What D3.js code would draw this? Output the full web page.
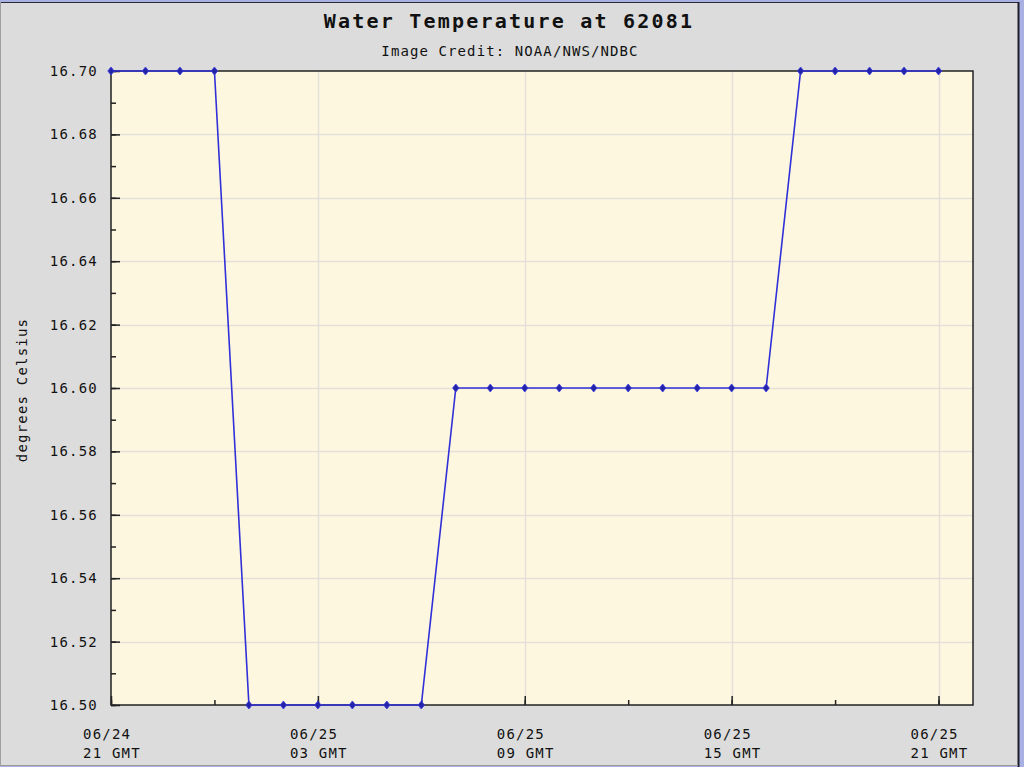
<!DOCTYPE html>
<html>
<head>
<meta charset="utf-8">
<script src="https://cdn.jsdelivr.net/npm/d3@7"></script>
<style>
html,body{margin:0;padding:0;background:#a9b1e3;}
svg{display:block;}
text{font-family:"DejaVu Sans Mono","Liberation Mono",monospace;fill:#111;}
</style>
</head>
<body>
<svg id="chart" width="1024" height="767"></svg>
<script>
// Data: hourly water temperature, 06/24 21 GMT .. 06/25 21 GMT
const hours = [0,1,2,3,4,5,6,7,8,9,10,11,12,13,14,15,16,17,18,19,20,21,22,23,24];
const temps = [16.70,16.70,16.70,16.70,
               16.50,16.50,16.50,16.50,16.50,16.50,
               16.60,16.60,16.60,16.60,16.60,16.60,16.60,16.60,16.60,16.60,
               16.70,16.70,16.70,16.70,16.70];
const yTicks = [16.50,16.52,16.54,16.56,16.58,16.60,16.62,16.64,16.66,16.68,16.70];
const xTickHours = [0,6,12,18,24];
const xTickDates = ["06/24","06/25","06/25","06/25","06/25"];
const xTickTimes = ["21 GMT","03 GMT","09 GMT","15 GMT","21 GMT"];
const title = "Water Temperature at 62081";
const subtitle = "Image Credit: NOAA/NWS/NDBC";
const yLabel = "degrees Celsius";

const svg = d3.select("#chart");
// frame
svg.append("rect").attr("x",0).attr("y",2).attr("width",1019).attr("height",764).attr("fill","#dcdcdc");
svg.append("line").attr("x1",0).attr("x2",1019).attr("y1",2.5).attr("y2",2.5).attr("stroke","#2a2a3a").attr("stroke-width",1);
svg.append("line").attr("x1",1018.5).attr("x2",1018.5).attr("y1",2).attr("y2",767).attr("stroke","#1e1e2a").attr("stroke-width",2);
svg.append("line").attr("x1",0).attr("x2",1018).attr("y1",765.5).attr("y2",765.5).attr("stroke","#9a9a9a").attr("stroke-width",1);
svg.append("line").attr("x1",0.5).attr("x2",0.5).attr("y1",2).attr("y2",766).attr("stroke","#a0a0a0").attr("stroke-width",1);

const L=111, R=973, T=71, B=705;
const x = d3.scaleLinear().domain([0,25]).range([L,R]);
const y = d3.scaleLinear().domain([16.50,16.70]).range([B,T]);

svg.append("rect").attr("x",L).attr("y",T).attr("width",R-L).attr("height",B-T).attr("fill","#fef7df");

// gridlines
svg.append("g").selectAll("line").data(yTicks.slice(1,-1)).join("line")
  .attr("x1",L).attr("x2",R).attr("y1",d=>Math.round(y(d))+0.5).attr("y2",d=>Math.round(y(d))+0.5)
  .attr("stroke","#e2e0d8").attr("stroke-width",1.5);
svg.append("g").selectAll("line").data(xTickHours.slice(1)).join("line")
  .attr("y1",T).attr("y2",B).attr("x1",d=>Math.round(x(d))+0.5).attr("x2",d=>Math.round(x(d))+0.5)
  .attr("stroke","#e2e0d8").attr("stroke-width",1.5);

// axes via d3
const minorY = d3.range(0,21).map(i=>16.50+i*0.01);
const yAxisMinor = d3.axisLeft(y).tickValues(minorY).tickSize(-5).tickFormat("");
const yAxis = d3.axisLeft(y).tickValues(yTicks).tickSize(-9).tickPadding(13).tickFormat(d3.format(".2f"));
const gyMinor = svg.append("g").attr("transform",`translate(${L},0)`).call(yAxisMinor);
const gy = svg.append("g").attr("transform",`translate(${L},0)`).call(yAxis);
[gy,gyMinor].forEach(g=>{g.select(".domain").remove();g.selectAll("line").attr("stroke","#222").attr("stroke-width",1.5);});
gy.selectAll("text").attr("font-family","DejaVu Sans Mono").attr("font-size",14).attr("letter-spacing",1.2).attr("fill","#111");

const minorX = d3.range(0,25,3);
const xAxisMinor = d3.axisBottom(x).tickValues(minorX).tickSize(-5).tickFormat("");
const xAxis = d3.axisBottom(x).tickValues(xTickHours).tickSize(-9).tickFormat("");
const gxMinor = svg.append("g").attr("transform",`translate(0,${B})`).call(xAxisMinor);
const gx = svg.append("g").attr("transform",`translate(0,${B})`).call(xAxis);
[gx,gxMinor].forEach(g=>{g.select(".domain").remove();g.selectAll("line").attr("stroke","#222").attr("stroke-width",1.5);});

// x labels
const xl = svg.append("g");
xTickHours.forEach((h,i)=>{
  const t = xl.append("text").attr("x",x(h)-28).attr("font-size",14).attr("letter-spacing",1.2);
  t.append("tspan").attr("x",x(h)-28).attr("y",739).text(xTickDates[i]);
  t.append("tspan").attr("x",x(h)-28).attr("y",758).text(xTickTimes[i]);
});

// plot border
svg.append("rect").attr("x",L).attr("y",T).attr("width",R-L).attr("height",B-T)
  .attr("fill","none").attr("stroke","#222").attr("stroke-width",1.5);

// line
const line = d3.line().x((d,i)=>x(hours[i])).y(d=>y(d));
svg.append("path").datum(temps).attr("d",line).attr("fill","none").attr("stroke","#3030d8").attr("stroke-width",1.6);
svg.append("g").selectAll("path").data(temps).join("path")
  .attr("d",(d,i)=>{const cx=x(hours[i]), cy=y(d);return `M${cx},${cy-4}L${cx+3.2},${cy}L${cx},${cy+4}L${cx-3.2},${cy}Z`;})
  .attr("fill","#2424a8").attr("stroke","#3a3ae0").attr("stroke-width",0.8);

// titles
svg.append("text").attr("x",509).attr("y",28).attr("text-anchor","middle")
  .attr("font-size",20).attr("font-weight","bold").attr("letter-spacing",2.2).text(title);
svg.append("text").attr("x",510).attr("y",56).attr("text-anchor","middle")
  .attr("font-size",14).attr("letter-spacing",1.1).text(subtitle);
svg.append("text").attr("transform","translate(27,390) rotate(-90)").attr("text-anchor","middle")
  .attr("font-size",14).attr("letter-spacing",1.2).text(yLabel);
</script>
</body>
</html>
